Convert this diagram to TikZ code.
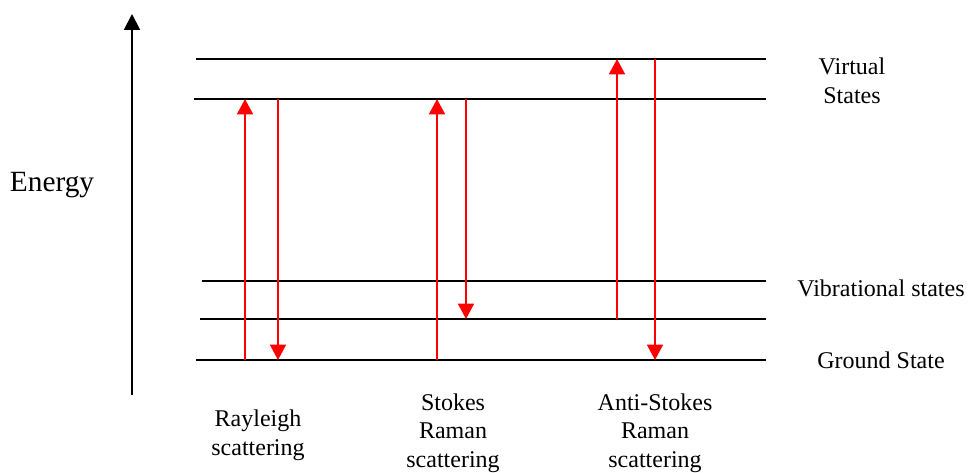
\documentclass[tikz,border=0pt]{standalone}
\usepackage{fontspec}
\setmainfont{Liberation Serif}
\usetikzlibrary{arrows.meta}

\tikzset{
  level/.style={line width=1.5pt, black},
  transition/.style={line width=1.2pt, red, -{Triangle[length=11.5pt,width=12pt]}},
  axisarrow/.style={line width=1.5pt, black, -{Triangle[length=12pt,width=12pt]}},
  lbl/.style={font=\fontsize{18}{21.4}\selectfont, align=center, inner sep=0pt},
  biglbl/.style={font=\fontsize{22}{26}\selectfont, inner sep=0pt}
}

\begin{document}
\begin{tikzpicture}[x=0.75pt, y=-0.75pt]
  \useasboundingbox (0,0) rectangle (969,473);

  % energy axis
  \coordinate (axlo) at (132,395);
  \coordinate (axhi) at (132,14);
  \draw[axisarrow] (axlo) -- (axhi);
  \node[biglbl] (energy) at (52,185) {Energy};

  % energy levels
  \coordinate (v1l) at (196,59);  \coordinate (v1r) at (766,59);
  \coordinate (v2l) at (194,99);  \coordinate (v2r) at (766,99);
  \coordinate (b1l) at (202,281); \coordinate (b1r) at (766,281);
  \coordinate (b2l) at (200,319); \coordinate (b2r) at (766,319);
  \coordinate (gl)  at (196,360); \coordinate (gr)  at (766,360);
  \draw[level] (v1l) -- (v1r);
  \draw[level] (v2l) -- (v2r);
  \draw[level] (b1l) -- (b1r);
  \draw[level] (b2l) -- (b2r);
  \draw[level] (gl) -- (gr);

  % Rayleigh scattering
  \coordinate (ra0) at (245,360); \coordinate (ra1) at (245,99);
  \coordinate (rb0) at (278,99);  \coordinate (rb1) at (278,360);
  \draw[transition] (ra0) -- (ra1);
  \draw[transition] (rb0) -- (rb1);

  % Stokes Raman scattering
  \coordinate (sa0) at (437,360); \coordinate (sa1) at (437,99);
  \coordinate (sb0) at (466,99);  \coordinate (sb1) at (466,319);
  \draw[transition] (sa0) -- (sa1);
  \draw[transition] (sb0) -- (sb1);

  % Anti-Stokes Raman scattering
  \coordinate (aa0) at (617,319); \coordinate (aa1) at (617,59);
  \coordinate (ab0) at (655,59);  \coordinate (ab1) at (655,360);
  \draw[transition] (aa0) -- (aa1);
  \draw[transition] (ab0) -- (ab1);

  % level labels
  \node[lbl] (virt) at (852,81) {Virtual\\States};
  \node[lbl] (vib) at (881,288) {Vibrational states};
  \node[lbl] (ground) at (881,360) {Ground State};

  % process labels
  \node[lbl] (ray) at (258,435) {Rayleigh\\scattering};
  \node[lbl] (stokes) at (453,433) {Stokes\\Raman\\scattering};
  \node[lbl] (astokes) at (655,433) {Anti-Stokes\\Raman\\scattering};
\end{tikzpicture}
\end{document}
